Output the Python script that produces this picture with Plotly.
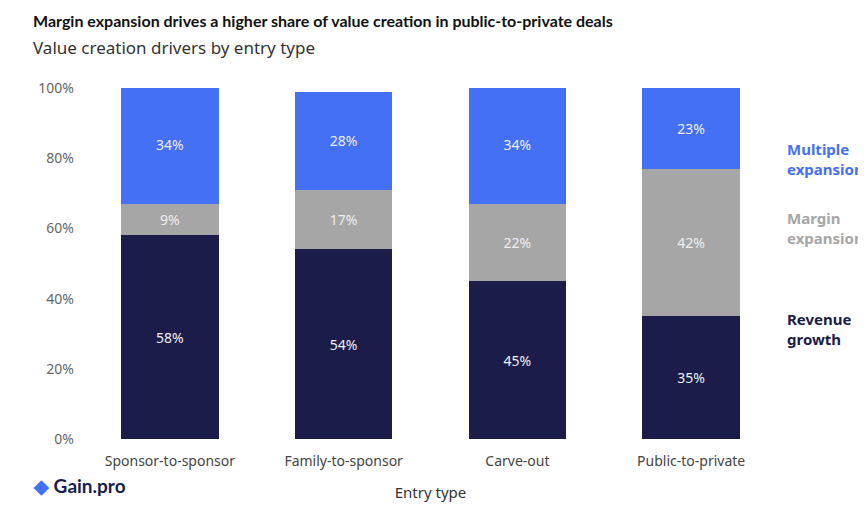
import plotly.graph_objects as go

categories = ["Sponsor-to-sponsor", "Family-to-sponsor", "Carve-out", "Public-to-private"]
revenue = [58, 54, 45, 35]
margin = [9, 17, 22, 42]
multiple = [34, 28, 34, 23]
ytick_vals = [0, 20, 40, 60, 80, 100]
ytick_text = ["0%", "20%", "40%", "60%", "80%", "100%"]

colors = {"rev": "#1b1c4a", "mar": "#a6a6a6", "mul": "#4470f5"}

fig = go.Figure()
for name, vals, c in [("Revenue growth", revenue, colors["rev"]),
                      ("Margin expansion", margin, colors["mar"]),
                      ("Multiple expansion", multiple, colors["mul"])]:
    fig.add_bar(x=categories, y=vals, name=name, marker_color=c, marker_line_width=0,
                text=[f"{v}%" for v in vals], textposition="inside", insidetextanchor="middle",
                textfont=dict(color="#eeeeee", size=14, family="Noto Sans"), width=0.56)

fig.update_layout(
    barmode="stack", width=866, height=515, showlegend=False,
    plot_bgcolor="white", paper_bgcolor="white",
    margin=dict(l=75, r=96, t=80, b=84),
    font=dict(family="Noto Sans", color="#333333", size=14),
    xaxis=dict(title=dict(text="Entry type", font=dict(size=15), standoff=18), ticks="",
               tickfont=dict(size=14, color="#444444"), ticklabelstandoff=12),
    yaxis=dict(range=[0, 100], tickvals=ytick_vals, ticktext=ytick_text,
               showgrid=False, tickfont=dict(size=14, color="#666666"), ticklabelstandoff=8),
)
anns = [
    dict(text="<b>Margin expansion drives a higher share of value creation in public-to-private deals</b>",
         x=-0.075, y=1.225, font=dict(size=16, color="#111111", family="Lato")),
    dict(text="Value creation drivers by entry type", x=-0.075, y=1.155, font=dict(size=17, color="#333333")),
    dict(text="<b>Multiple<br>expansion</b>", x=1.01, y=0.86, font=dict(size=15, color=colors["mul"])),
    dict(text="<b>Margin<br>expansion</b>", x=1.01, y=0.60, font=dict(size=15, color=colors["mar"])),
    dict(text="<b>Revenue<br>growth</b>", x=1.01, y=0.25, font=dict(size=15, color=colors["rev"])),
    dict(text="<b><span style='color:#4470f5'>◆</span> Gain.pro</b>", x=-0.075, y=-0.17,
         font=dict(size=19, color="#1b1c4a", family="Lato")),
]
for a in anns:
    fig.add_annotation(xref="paper", yref="paper", showarrow=False, xanchor="left", align="left", **a)

fig.write_html("out.html")
